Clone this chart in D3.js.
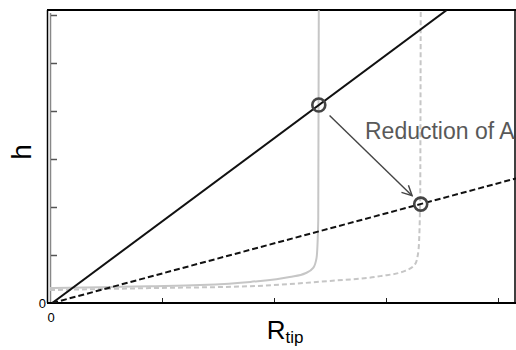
<!DOCTYPE html>
<html>
<head>
    <meta charset="UTF-8">
    <title>h vs R_tip</title>
    <script src="https://d3js.org/d3.v7.min.js"></script>
    <style>
        body { margin: 0; background: #fff; }
        text { font-family: "Liberation Sans", Arial, sans-serif; }
    </style>
</head>
<body>
    <div id="chart"></div>
    <script>
        // x ticks (no labels except 0) and y ticks
        var xTicks = [1, 2, 3, 4];
        var yTicks = [1, 2, 3, 4, 5, 6];

        // straight lines h ~ R
        var lineSolid = [[0.02, 0], [3.54, 6.1]];
        var lineDashed = [[0.02, 0], [4.2, 2.62]];

        // grey curves (solid and dashed)
        var curveSolid = [[0, 0.31], [0.45, 0.33], [0.89, 0.35], [1.34, 0.375], [1.79, 0.44],
            [2.14, 0.54], [2.28, 0.62], [2.35, 0.73], [2.38, 0.94], [2.395, 1.73], [2.40, 6.1]];
        var curveDashed = [[0, 0.27], [0.89, 0.31], [1.79, 0.35], [2.5, 0.46], [2.95, 0.56],
            [3.17, 0.67], [3.26, 0.81], [3.29, 1.1], [3.305, 2.15], [3.31, 6.1]];

        // intersection circles
        var markers = [[2.40, 4.125], [3.31, 2.06]];
        var note = "Reduction of A";

        var width = 516, height = 350;
        var mLeft = 50, mRight = 516, mTop = 10, mBottom = 303;

        var x = d3.scaleLinear().domain([0, 4]).range([mLeft, 498]);
        var y = d3.scaleLinear().domain([0, 6]).range([mBottom, 15]);

        var svg = d3.select("#chart").append("svg")
            .attr("width", width)
            .attr("height", height);

        var defs = svg.append("defs");
        defs.append("clipPath").attr("id", "plot")
            .append("rect").attr("x", 48).attr("y", mTop)
            .attr("width", mRight - 48).attr("height", mBottom - mTop);

        defs.append("marker")
            .attr("id", "arrow")
            .attr("viewBox", "0 0 12 12")
            .attr("refX", 11).attr("refY", 6)
            .attr("markerWidth", 12).attr("markerHeight", 12)
            .attr("markerUnits", "userSpaceOnUse")
            .attr("orient", "auto")
            .append("path")
            .attr("d", "M1,1 L11,6 L1,11")
            .attr("fill", "none")
            .attr("stroke", "#444")
            .attr("stroke-width", 1.4);

        // frame
        svg.append("line").attr("x1", 47).attr("x2", mRight).attr("y1", mTop).attr("y2", mTop)
            .attr("stroke", "#000").attr("stroke-width", 2);
        svg.append("line").attr("x1", 47.5).attr("x2", 47.5).attr("y1", mTop).attr("y2", mBottom)
            .attr("stroke", "#000").attr("stroke-width", 1.5);
        svg.append("line").attr("x1", 515).attr("x2", 515).attr("y1", mTop).attr("y2", mBottom)
            .attr("stroke", "#000").attr("stroke-width", 1.5);
        svg.append("line").attr("x1", 50.5).attr("x2", 50.5).attr("y1", 13).attr("y2", mBottom)
            .attr("stroke", "#888").attr("stroke-width", 1.5);

        // y ticks
        var yAxis = svg.append("g")
            .attr("transform", "translate(51,0)")
            .call(d3.axisLeft(y).tickValues(yTicks).tickSize(-6).tickFormat(""));
        yAxis.select(".domain").remove();
        yAxis.selectAll("line").attr("stroke", "#555").attr("stroke-width", 1.5);

        // x axis
        var xAxis = svg.append("g")
            .attr("transform", "translate(0," + mBottom + ")")
            .call(d3.axisBottom(x).tickValues(xTicks).tickSize(-5).tickFormat(""));
        xAxis.select(".domain").remove();
        xAxis.selectAll("line").attr("stroke", "#222").attr("stroke-width", 1);
        svg.append("line").attr("x1", 47).attr("x2", mRight).attr("y1", mBottom).attr("y2", mBottom)
            .attr("stroke", "#000").attr("stroke-width", 2);

        var line = d3.line().x(function (d) { return x(d[0]); }).y(function (d) { return y(d[1]); });
        var curve = d3.line().curve(d3.curveMonotoneX)
            .x(function (d) { return x(d[0]); }).y(function (d) { return y(d[1]); });

        var plot = svg.append("g").attr("clip-path", "url(#plot)");

        plot.append("path").datum(curveSolid).attr("d", curve)
            .attr("fill", "none").attr("stroke", "#c6c6c6").attr("stroke-width", 2);
        plot.append("path").datum(curveDashed).attr("d", curve)
            .attr("fill", "none").attr("stroke", "#c6c6c6").attr("stroke-width", 2)
            .attr("stroke-dasharray", "5,3");

        plot.append("path").datum(lineSolid).attr("d", line)
            .attr("fill", "none").attr("stroke", "#111").attr("stroke-width", 2);
        plot.append("path").datum(lineDashed).attr("d", line)
            .attr("fill", "none").attr("stroke", "#111").attr("stroke-width", 2)
            .attr("stroke-dasharray", "6,3");

        // circles
        svg.selectAll("circle.m").data(markers).enter().append("circle")
            .attr("class", "m")
            .attr("cx", function (d) { return x(d[0]); })
            .attr("cy", function (d) { return y(d[1]); })
            .attr("r", 6.5)
            .attr("fill", "none")
            .attr("stroke", "#444")
            .attr("stroke-width", 2.6);

        // arrow between the circles
        var p0 = [x(markers[0][0]), y(markers[0][1])];
        var p1 = [x(markers[1][0]), y(markers[1][1])];
        var dx = p1[0] - p0[0], dy = p1[1] - p0[1];
        var len = Math.sqrt(dx * dx + dy * dy);
        svg.append("line")
            .attr("x1", p0[0] + dx / len * 15).attr("y1", p0[1] + dy / len * 15)
            .attr("x2", p1[0] - dx / len * 12).attr("y2", p1[1] - dy / len * 12)
            .attr("stroke", "#444").attr("stroke-width", 1.4)
            .attr("marker-end", "url(#arrow)");

        svg.append("text")
            .attr("x", 365).attr("y", 139)
            .attr("font-size", "23px")
            .attr("fill", "#595959")
            .text(note);

        // zero labels
        svg.append("text").attr("x", 46).attr("y", 308).attr("text-anchor", "end")
            .attr("font-size", "13px").attr("fill", "#000").text("0");
        svg.append("text").attr("x", 51).attr("y", 322).attr("text-anchor", "middle")
            .attr("font-size", "13px").attr("fill", "#000").text("0");

        // axis titles
        svg.append("text")
            .attr("transform", "translate(31,152) rotate(-90)")
            .attr("text-anchor", "middle")
            .attr("font-size", "28px")
            .attr("fill", "#000")
            .text("h");

        var xt = svg.append("text")
            .attr("x", 285).attr("y", 339)
            .attr("text-anchor", "middle")
            .attr("fill", "#000");
        xt.append("tspan").attr("font-size", "26px").text("R");
        xt.append("tspan").attr("font-size", "17px").attr("dy", 4).text("tip");
    </script>
</body>
</html>
